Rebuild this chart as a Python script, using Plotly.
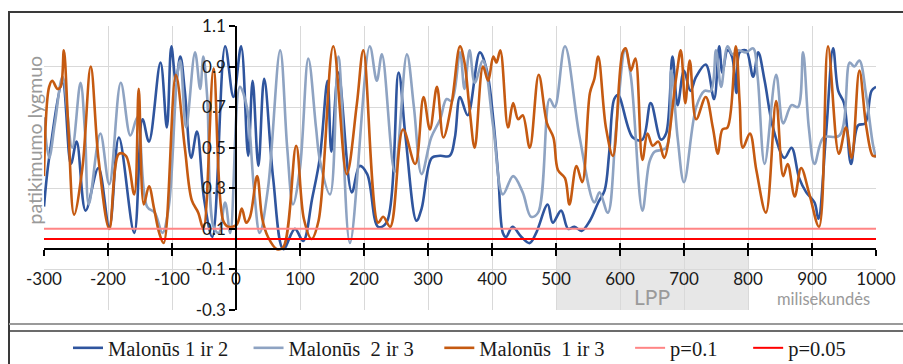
import plotly.graph_objects as go

# ---------------- data ----------------
s1_name = "Malonūs 1 ir 2"
s1_x = [-300,-292,-271,-258,-249,-235,-215,-198,-183,-159,-146,-136,-118,-108,-101,-94,-87,-80,-70,-61,-50,-37,-17,-4,8,19,26,35,44,58,74,92,105,119,131,143,149,160,181,193,205,222,235,254,265,282,290,306,319,334,342,350,362,381,392,402,410,417,422,432,446,459,469,487,495,508,519,529,540,553,566,576,583,591,597,620,635,648,664,672,682,690,700,710,719,734,747,755,760,768,775,782,787,797,808,816,826,839,857,868,880,891,904,910,922,933,941,950,961,972,983,993,1000]
s1_y = [0.21,0.45,0.82,0.42,0.53,0.19,0.40,0.11,0.55,0.08,0.64,0.53,0.92,0.60,1.00,0.83,0.95,0.78,0.45,0.58,0.25,0.06,1.00,0.75,1.00,0.46,0.83,0.41,0.84,0.35,0.00,0.10,0.04,0.25,0.45,0.83,0.48,0.87,0.28,0.41,0.37,0.11,0.13,0.87,0.55,0.14,0.20,0.45,0.46,0.46,0.55,0.75,0.66,0.97,0.88,0.64,0.35,0.08,0.06,0.11,0.06,0.03,0.08,0.22,0.13,0.19,0.10,0.11,0.09,0.14,0.23,0.29,0.47,0.74,0.76,0.55,0.54,0.72,0.54,0.57,0.95,0.71,0.88,0.78,0.85,0.91,0.74,1.00,0.87,0.98,0.95,0.77,0.97,0.98,0.85,0.97,0.83,0.60,0.45,0.50,0.35,0.28,0.23,0.15,0.57,0.99,0.78,0.72,0.42,0.61,0.62,0.78,0.80]

s2_name = "Malonūs\u00a0 2 ir 3"
s2_x = [-300,-292,-283,-271,-256,-243,-236,-230,-212,-198,-180,-165,-154,-139,-127,-115,-105,-92,-87,-78,-64,-56,-51,-45,-35,-27,-17,-9,6,17,28,37,50,69,80,89,100,113,125,131,147,160,178,209,220,228,248,267,278,290,305,319,329,337,350,357,365,373,386,402,417,433,448,461,472,490,498,514,537,560,568,581,594,608,617,635,646,654,672,680,690,700,719,732,742,750,758,768,776,784,797,808,815,826,844,855,868,878,886,895,904,918,943,959,966,974,985,995,1000]
s2_y = [0.65,0.45,0.62,0.85,0.50,0.82,0.58,0.22,0.57,0.32,0.82,0.56,0.65,0.21,0.18,0.08,0.21,0.85,0.93,0.60,0.97,0.79,0.95,0.75,0.11,0.08,0.23,0.08,0.80,0.70,0.30,0.08,0.30,0.98,0.50,0.22,0.40,0.94,0.60,0.44,0.27,0.95,0.03,1.00,0.83,0.96,0.38,0.96,0.70,0.37,0.55,0.64,0.74,0.73,0.97,0.79,0.98,0.82,0.93,0.60,0.27,0.36,0.28,0.16,0.18,0.74,0.70,1.00,0.55,0.23,0.28,0.18,0.60,0.98,0.85,0.19,0.43,0.48,0.50,0.88,0.55,0.33,0.70,0.78,0.78,0.98,0.80,1.00,0.96,0.98,0.97,0.99,0.85,0.42,0.86,0.62,0.71,0.70,0.97,0.60,0.42,0.55,0.56,0.92,0.90,0.93,0.75,0.52,0.45]

s3_name = "Malonūs\u00a0 1 ir 3"
s3_x = [-300,-292,-287,-279,-274,-269,-262,-253,-240,-227,-215,-198,-183,-172,-159,-152,-144,-136,-128,-120,-113,-94,-80,-69,-59,-51,-35,-20,-12,1,9,16,22,33,41,50,64,74,94,106,118,129,152,173,189,199,222,230,241,261,280,293,303,314,324,337,350,357,365,373,386,394,402,407,413,425,433,441,448,459,473,486,496,503,514,521,532,541,553,560,566,578,589,604,609,617,624,635,643,651,660,669,688,695,702,709,719,734,745,753,760,768,781,787,792,803,813,828,844,855,862,873,883,896,911,925,942,953,962,974,985,995,1000]
s3_y = [0.36,0.80,0.83,0.79,0.80,0.98,0.60,0.17,0.40,0.90,0.45,0.10,0.47,0.46,0.27,0.79,0.22,0.31,0.20,0.08,0.03,0.86,0.50,0.24,0.18,0.10,0.89,0.14,0.11,0.12,0.20,0.13,0.16,0.36,0.15,0.06,0.00,0.01,0.51,0.15,0.05,0.14,1.00,0.37,0.72,0.98,0.13,0.16,0.11,0.59,0.42,0.75,0.59,0.80,0.55,0.72,1.00,0.92,0.69,0.50,0.90,0.83,0.95,0.92,0.98,0.60,0.72,0.64,0.66,0.50,0.86,0.62,0.55,0.39,0.35,0.22,0.41,0.33,0.77,0.84,0.95,0.60,0.46,0.97,0.99,0.88,0.94,0.44,0.57,0.51,0.53,0.45,0.85,0.98,0.72,0.93,0.64,0.75,0.60,0.47,0.59,0.60,1.00,0.72,0.50,0.57,0.39,0.18,0.73,0.36,0.42,0.26,0.40,0.27,0.11,1.00,0.47,0.60,0.45,0.88,0.60,0.46,0.46]

p1_name = "p=0.1"
p1_value = 0.1
p2_name = "p=0.05"
p2_value = 0.05

x_range = [-300, 1000]
y_range = [-0.3, 1.1]
x_ticks = [-300, -200, -100, 0, 100, 200, 300, 400, 500, 600, 700, 800, 900, 1000]
x_ticklabels = ["-300", "-200", "-100", "0", "100", "200", "300", "400", "500", "600", "700", "800", "900", "1000"]
y_ticks = [-0.3, -0.1, 0.1, 0.3, 0.5, 0.7, 0.9, 1.1]
y_ticklabels = ["-0.3", "-0.1", "0.1", "0.3", "0.5", "0.7", "0.9", "1.1"]
lpp_range = [500, 800]
y_title = "patikimumo lygmuo"
x_title = "milisekundės"
lpp_label = "LPP"

# legend spacing padding (invisible trailing spaces)
NB = "\u00a0"

# ---------------- figure ----------------
fig = go.Figure()
LW = 2.6
fig.add_trace(go.Scatter(x=s1_x, y=s1_y, name=s1_name + NB * 3, mode="lines",
                         line=dict(color="#2F559E", width=LW, shape="spline", smoothing=1.0)))
fig.add_trace(go.Scatter(x=s2_x, y=s2_y, name=s2_name + NB * 4, mode="lines",
                         line=dict(color="#8EA3C2", width=LW, shape="spline", smoothing=1.0)))
fig.add_trace(go.Scatter(x=s3_x, y=s3_y, name=s3_name + NB * 4, mode="lines",
                         line=dict(color="#C55A11", width=LW, shape="spline", smoothing=1.0)))
fig.add_trace(go.Scatter(x=x_range, y=[p1_value, p1_value], name=p1_name + NB * 5, mode="lines",
                         line=dict(color="#FF8585", width=2)))
fig.add_trace(go.Scatter(x=x_range, y=[p2_value, p2_value], name=p2_name, mode="lines",
                         line=dict(color="#FF0000", width=2)))

W, H = 903, 364
L, R, T, B = 44, 27, 26, 54
pw, ph = W - L - R, H - T - B

def px2paper_x(px):
    return (px - L) / pw

def py2paper_y(py):
    return (H - B - py) / ph

x_axis_pos = (0 - y_range[0]) / (y_range[1] - y_range[0])
y_axis_pos = (0 - x_range[0]) / (x_range[1] - x_range[0])

tickfont = dict(family="Lato", size=17, color="#1a1a1a")

fig.update_layout(
    width=W, height=H,
    margin=dict(l=L, r=R, t=T, b=B, autoexpand=False),
    paper_bgcolor="white", plot_bgcolor="white",
    showlegend=True,
    legend=dict(orientation="h", x=px2paper_x(68), y=py2paper_y(348), xanchor="left", yanchor="middle",
                font=dict(family="Liberation Serif", size=20.5, color="#1a1a1a"),
                bgcolor="rgba(0,0,0,0)", itemwidth=30, tracegroupgap=0),
    xaxis=dict(range=x_range, tickvals=x_ticks, ticktext=x_ticklabels, showgrid=True,
               gridcolor="#D9D9D9", gridwidth=1,
               zeroline=False, showline=True, linecolor="black", linewidth=1.5,
               anchor="free", position=x_axis_pos,
               ticks="outside", ticklen=6, tickwidth=1.5, tickcolor="black",
               tickfont=tickfont, ticklabelstandoff=9),
    xaxis2=dict(range=x_range, tickvals=x_ticks, overlaying="x", anchor="free", position=x_axis_pos,
                showgrid=False, zeroline=False, showline=False, ticks="inside", ticklen=6,
                tickwidth=1.5, tickcolor="black", showticklabels=False),
    yaxis=dict(range=y_range, tickvals=y_ticks, ticktext=y_ticklabels, showgrid=True,
               gridcolor="#D9D9D9", gridwidth=1, zeroline=False, showline=True, linecolor="black",
               linewidth=1.5, anchor="free", position=y_axis_pos,
               ticks="outside", ticklen=6, tickwidth=1.5, tickcolor="black", tickfont=tickfont),
)

# make xaxis2 render (invisible helper trace)
fig.add_trace(go.Scatter(x=[x_range[0]], y=[None], xaxis="x2", yaxis="y", showlegend=False,
                         hoverinfo="skip", mode="lines"))

# LPP shaded region
fig.add_shape(type="rect", xref="x", yref="y", x0=lpp_range[0], x1=lpp_range[1], y0=y_range[0], y1=0,
              fillcolor="#E7E7E7", line=dict(width=0), layer="below")

# frame lines
fig.add_shape(type="rect", xref="paper", yref="paper", x0=px2paper_x(9), x1=px2paper_x(960),
              y0=py2paper_y(420), y1=py2paper_y(12), line=dict(color="#3a3a3a", width=2), fillcolor="rgba(0,0,0,0)")
fig.add_shape(type="line", xref="paper", yref="paper", x0=px2paper_x(9), x1=px2paper_x(960),
              y0=py2paper_y(324), y1=py2paper_y(324), line=dict(color="#9a9a9a", width=2))
fig.add_shape(type="line", xref="paper", yref="paper", x0=px2paper_x(9), x1=px2paper_x(960),
              y0=py2paper_y(331), y1=py2paper_y(331), line=dict(color="#3a3a3a", width=1.5))

fig.add_annotation(x=650, y=-0.235, xref="x", yref="y", text=lpp_label, showarrow=False,
                   font=dict(family="Lato", size=21, color="#9a9a9a"))
fig.add_annotation(x=px2paper_x(872), y=-0.245, xref="paper", yref="y", text=x_title, showarrow=False,
                   xanchor="right", font=dict(family="Lato", size=16.5, color="#9a9a9a"))
fig.add_annotation(x=px2paper_x(20), y=py2paper_y(140), xref="paper", yref="paper", text=y_title,
                   showarrow=False, textangle=-90, font=dict(family="Lato", size=19.5, color="#9a9a9a"))

fig.write_html("out.html")
